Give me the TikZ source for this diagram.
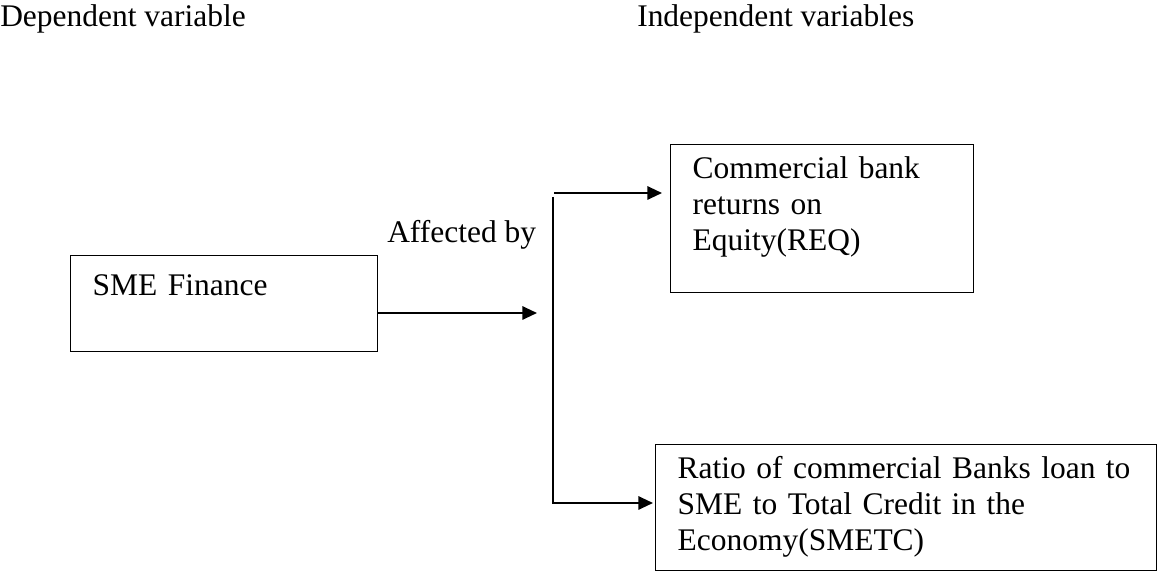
\documentclass[tikz,border=0pt]{standalone}
\usepackage{fontspec}
\setmainfont{Liberation Serif}
\usetikzlibrary{arrows.meta}

\tikzset{
	varbox/.style={draw,line width=1.1pt,anchor=north west,align=left,inner xsep=16.5pt,inner ysep=7.5pt,text height=18pt},
	heading/.style={anchor=base west,inner sep=0pt},
	link/.style={line width=1.5pt,-{Triangle[length=11pt,width=10pt]}}
}

\begin{document}
\begin{tikzpicture}[x=0.75pt,y=-0.75pt,font=\fontsize{23.6pt}{27pt}\selectfont]
	\useasboundingbox (0,0) rectangle (1158,573);
	
	\node[heading] (dep) at (0,27) {Dependent variable};
	\node[heading] (indep) at (637,27) {Independent variables};
	
	\node[varbox,text width=197.25pt,text height=22.5pt,text depth=34.5pt] (sme) at (70,255) {SME Finance};
	\node[varbox,text width=194.25pt,text depth=78pt] (req) at (670,144) {Commercial bank\\returns on\\Equity(REQ)};
	\node[varbox,text width=342.75pt,text depth=61.5pt] (smetc) at (655,444) {Ratio of commercial Banks loan to\\SME to Total Credit in the\\Economy(SMETC)};
	
	\node[heading] (aff) at (387,243) {Affected by};
	
	\coordinate (split) at (537,313);
	\coordinate (trunk) at (553,197);
	\coordinate (branchtop) at (554,193);
	\coordinate (branchbot) at (553,503);
	
	\draw[link] (sme.east |- split) -- (split);
	\draw[link,shorten >=6pt] (branchtop) -- (req.west |- branchtop);
	\draw[link,shorten >=1.5pt,line join=miter] (trunk) -- (branchbot) -- (smetc.west |- branchbot);
\end{tikzpicture}
\end{document}
